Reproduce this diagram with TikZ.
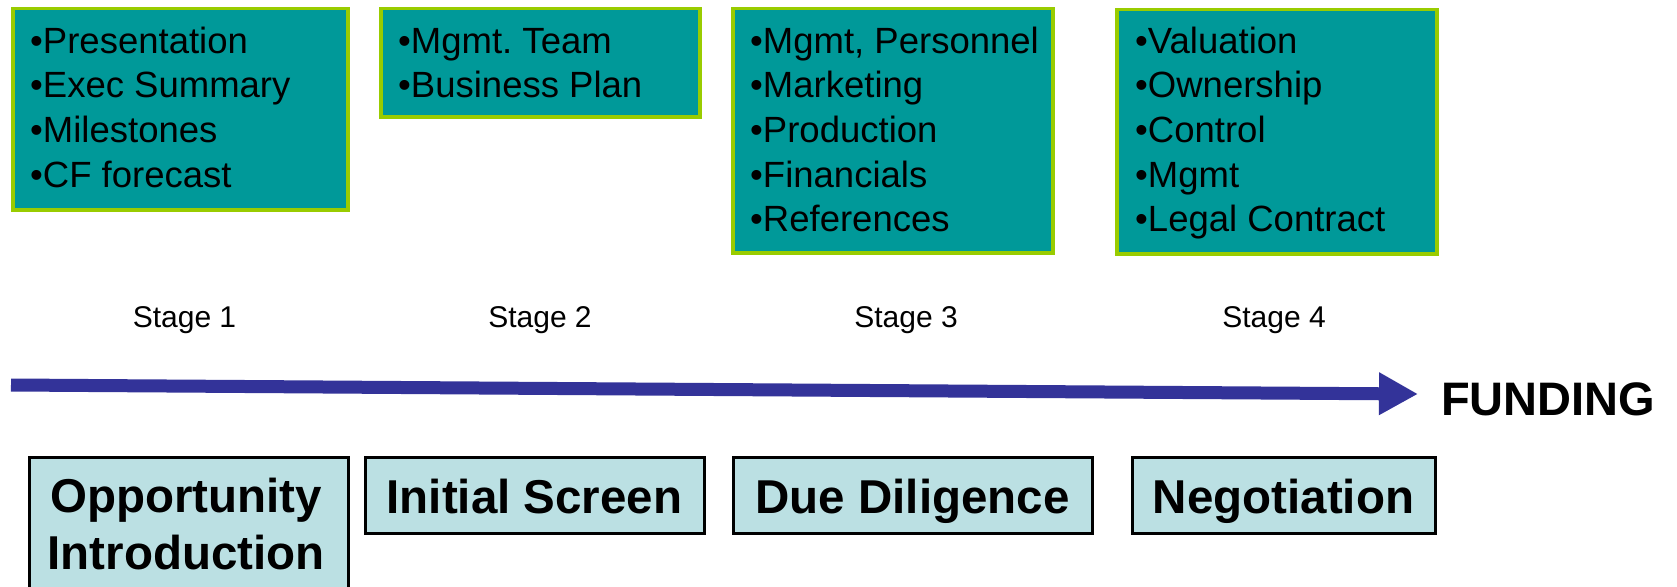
\documentclass[tikz,border=0pt]{standalone}
\usepackage{fontspec}
\setmainfont{Liberation Sans}
\usetikzlibrary{arrows.meta}
\definecolor{tealfill}{HTML}{009999}
\definecolor{limeedge}{HTML}{99CC00}
\definecolor{paleblue}{HTML}{BBE0E3}
\definecolor{arrowblue}{HTML}{333399}
\frenchspacing
\begin{document}
\begin{tikzpicture}[x=1pt,y=-1pt,
  topbox/.style={draw=limeedge, fill=tealfill, line width=3.5pt, inner sep=0pt, anchor=north west},
  toptext/.style={anchor=north west, inner sep=0pt, align=left, font=\fontsize{36.5}{44.6}\selectfont},
  stagelabel/.style={anchor=base, inner sep=0pt, font=\fontsize{30}{36}\selectfont},
  phasebox/.style={draw=black, fill=paleblue, line width=3pt, inner sep=0pt, anchor=north west},
  phasetext/.style={font=\bfseries\fontsize{47.5}{57}\selectfont, text height=36pt, text depth=0pt},
]
\useasboundingbox (0,0) rectangle (1677,586);
\clip (0,0) rectangle (1677,586);

% top boxes
\node[topbox, minimum width=335pt, minimum height=201pt] (b1) at (11,7) {};
\node[topbox, minimum width=319pt, minimum height=108pt] (b2) at (379,7) {};
\node[topbox, minimum width=320pt, minimum height=244pt] (b3) at (731,7) {};
\node[topbox, minimum width=320pt, minimum height=244pt] (b4) at (1115,8) {};

\node[toptext] (b1t) at (30,26) {\rule{0pt}{27pt}•Presentation\\•Exec Summary\\•Milestones\\•CF forecast};
\node[toptext] (b2t) at (398,26) {\rule{0pt}{27pt}•Mgmt.\ Team\\•Business Plan};
\node[toptext] (b3t) at (750,26) {\rule{0pt}{27pt}•Mgmt, Personnel\\•Marketing\\•Production\\•Financials\\•References};
\node[toptext] (b4t) at (1135,26) {\rule{0pt}{27pt}•Valuation\\•Ownership\\•Control\\•Mgmt\\•Legal Contract};

% stage labels
\node[stagelabel] (s1) at (184.5,327) {Stage 1};
\node[stagelabel] (s2) at (540,327) {Stage 2};
\node[stagelabel] (s3) at (906,327) {Stage 3};
\node[stagelabel] (s4) at (1274,327) {Stage 4};

% arrow
\coordinate (arrS) at (11,385);
\coordinate (arrE) at (1418,394);
\draw[arrowblue, line width=13pt, -{Triangle[length=39pt, width=40pt]}] (arrS) -- (arrE);
\node[anchor=base west, inner sep=0pt, font=\bfseries\fontsize{47}{56}\selectfont] (fund) at (1441,415) {FUNDING};

% phase boxes
\node[phasebox, minimum width=319pt, minimum height=170pt] (pA) at (27.5,455.5) {};
\node[anchor=north, inner sep=0pt, align=center, font=\bfseries\fontsize{47.5}{57}\selectfont] (pAt) at (186,476) {\rule{0pt}{36pt}Opportunity\\Introduction};
\node[phasebox, phasetext, minimum width=339pt, minimum height=76pt] (pB) at (363.5,455.5) {Initial Screen};
\node[phasebox, phasetext, minimum width=359pt, minimum height=76pt] (pC) at (731.5,455.5) {Due Diligence};
\node[phasebox, phasetext, minimum width=303pt, minimum height=76pt] (pD) at (1130.5,455.5) {Negotiation};
\end{tikzpicture}
\end{document}
